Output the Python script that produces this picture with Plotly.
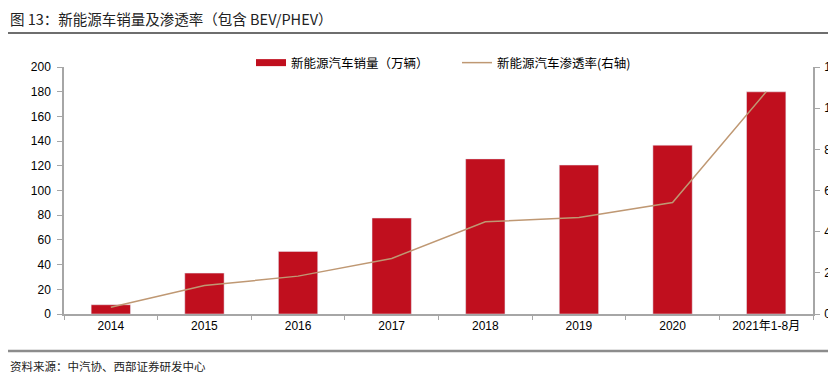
import plotly.graph_objects as go

categories = ["2014", "2015", "2016", "2017", "2018", "2019", "2020", "2021年1-8月"]
sales = [7.5, 33.1, 50.7, 77.7, 125.6, 120.6, 136.7, 179.9]
penetration = [0.0033, 0.0138, 0.0184, 0.027, 0.0448, 0.0469, 0.0542, 0.108]
left_ticks = list(range(0, 201, 20))
right_ticks = [0, 0.02, 0.04, 0.06, 0.08, 0.10, 0.12]

OFF = 8  # page body margin
PW, PH = 836, 374
W, H = PW - OFF, PH - OFF
# plot area in page pixels
L, R, T, B = 64, 813, 67, 314

def px(x):
    return (x - L) / (R - L)

def py(y):
    return (B - y) / (B - T)

BAR = "#C00F1E"
LINE = "#BF9873"
AX = "#A6A6A6"
CJK = "Noto Sans CJK SC"
LAT = "Liberation Sans, Arial"

fig = go.Figure()
fig.add_trace(go.Bar(x=categories, y=sales, marker_color=BAR, showlegend=False,
                     name="新能源汽车销量（万辆）"))
fig.add_trace(go.Scatter(x=[None], y=[None], mode="lines", line=dict(color=BAR, width=7),
                         name="新能源汽车销量（万辆）", legend="legend"))
fig.add_trace(go.Scatter(x=categories, y=penetration, mode="lines", yaxis="y2",
                         line=dict(color=LINE, width=1.5), name="新能源汽车渗透率(右轴)",
                         legend="legend2"))

fig.update_layout(
    width=W, height=H,
    margin=dict(l=L - OFF, r=PW - R, t=T - OFF, b=PH - B, autoexpand=False),
    plot_bgcolor="white", paper_bgcolor="white",
    bargap=0.58,
    font=dict(family=LAT, size=12, color="#000"),
    xaxis=dict(type="category", showline=True, linecolor=AX, linewidth=1.5,
               ticks="outside", tickson="boundaries", ticklen=4, tickcolor=AX,
               tickfont=dict(family=LAT + ", " + CJK, size=12), showgrid=False,
               automargin=False),
    yaxis=dict(range=[0, 200], tickvals=left_ticks, showline=True, linecolor=AX, linewidth=1.5,
               ticks="outside", ticklen=5, tickcolor=AX, showgrid=False, zeroline=False,
               tickfont=dict(size=12), automargin=False, ticklabelstandoff=4),
    yaxis2=dict(range=[0, 0.12], tickvals=right_ticks, tickformat=".0%", overlaying="y",
                side="right", showline=True, linecolor=AX, linewidth=1.5, ticks="outside",
                ticklen=5, tickcolor=AX, showgrid=False, zeroline=False,
                tickfont=dict(size=12), automargin=False, ticklabelstandoff=2),
    legend=dict(orientation="h", x=px(251), xanchor="left", y=py(63), yanchor="middle",
                font=dict(family=CJK, size=12.5), itemwidth=30, bgcolor="rgba(0,0,0,0)"),
    legend2=dict(orientation="h", x=px(457), xanchor="left", y=py(63), yanchor="middle",
                 font=dict(family=CJK, size=12.5), itemwidth=30, bgcolor="rgba(0,0,0,0)"),
)

fig.add_shape(type="line", xref="paper", yref="paper", x0=px(0), x1=px(PW), y0=py(33), y1=py(33),
              line=dict(color="#6E6E6E", width=2))
fig.add_shape(type="line", xref="paper", yref="paper", x0=px(0), x1=px(PW), y0=py(351), y1=py(351),
              line=dict(color="#8C8C8C", width=2.5))
fig.add_annotation(xref="paper", yref="paper", x=px(8), y=py(18), xanchor="left", yanchor="middle",
                   text="图 13：新能源车销量及渗透率（包含 BEV/PHEV）", showarrow=False,
                   font=dict(family=CJK, size=14.5, color="#222"))
fig.add_annotation(xref="paper", yref="paper", x=px(8), y=py(366), xanchor="left", yanchor="middle",
                   text="资料来源：中汽协、西部证券研发中心", showarrow=False,
                   font=dict(family=CJK, size=11.5, color="#222"))

fig.write_html("out.html",
               post_script="document.documentElement.style.overflow='hidden';"
                           "document.body.style.overflow='hidden';")
